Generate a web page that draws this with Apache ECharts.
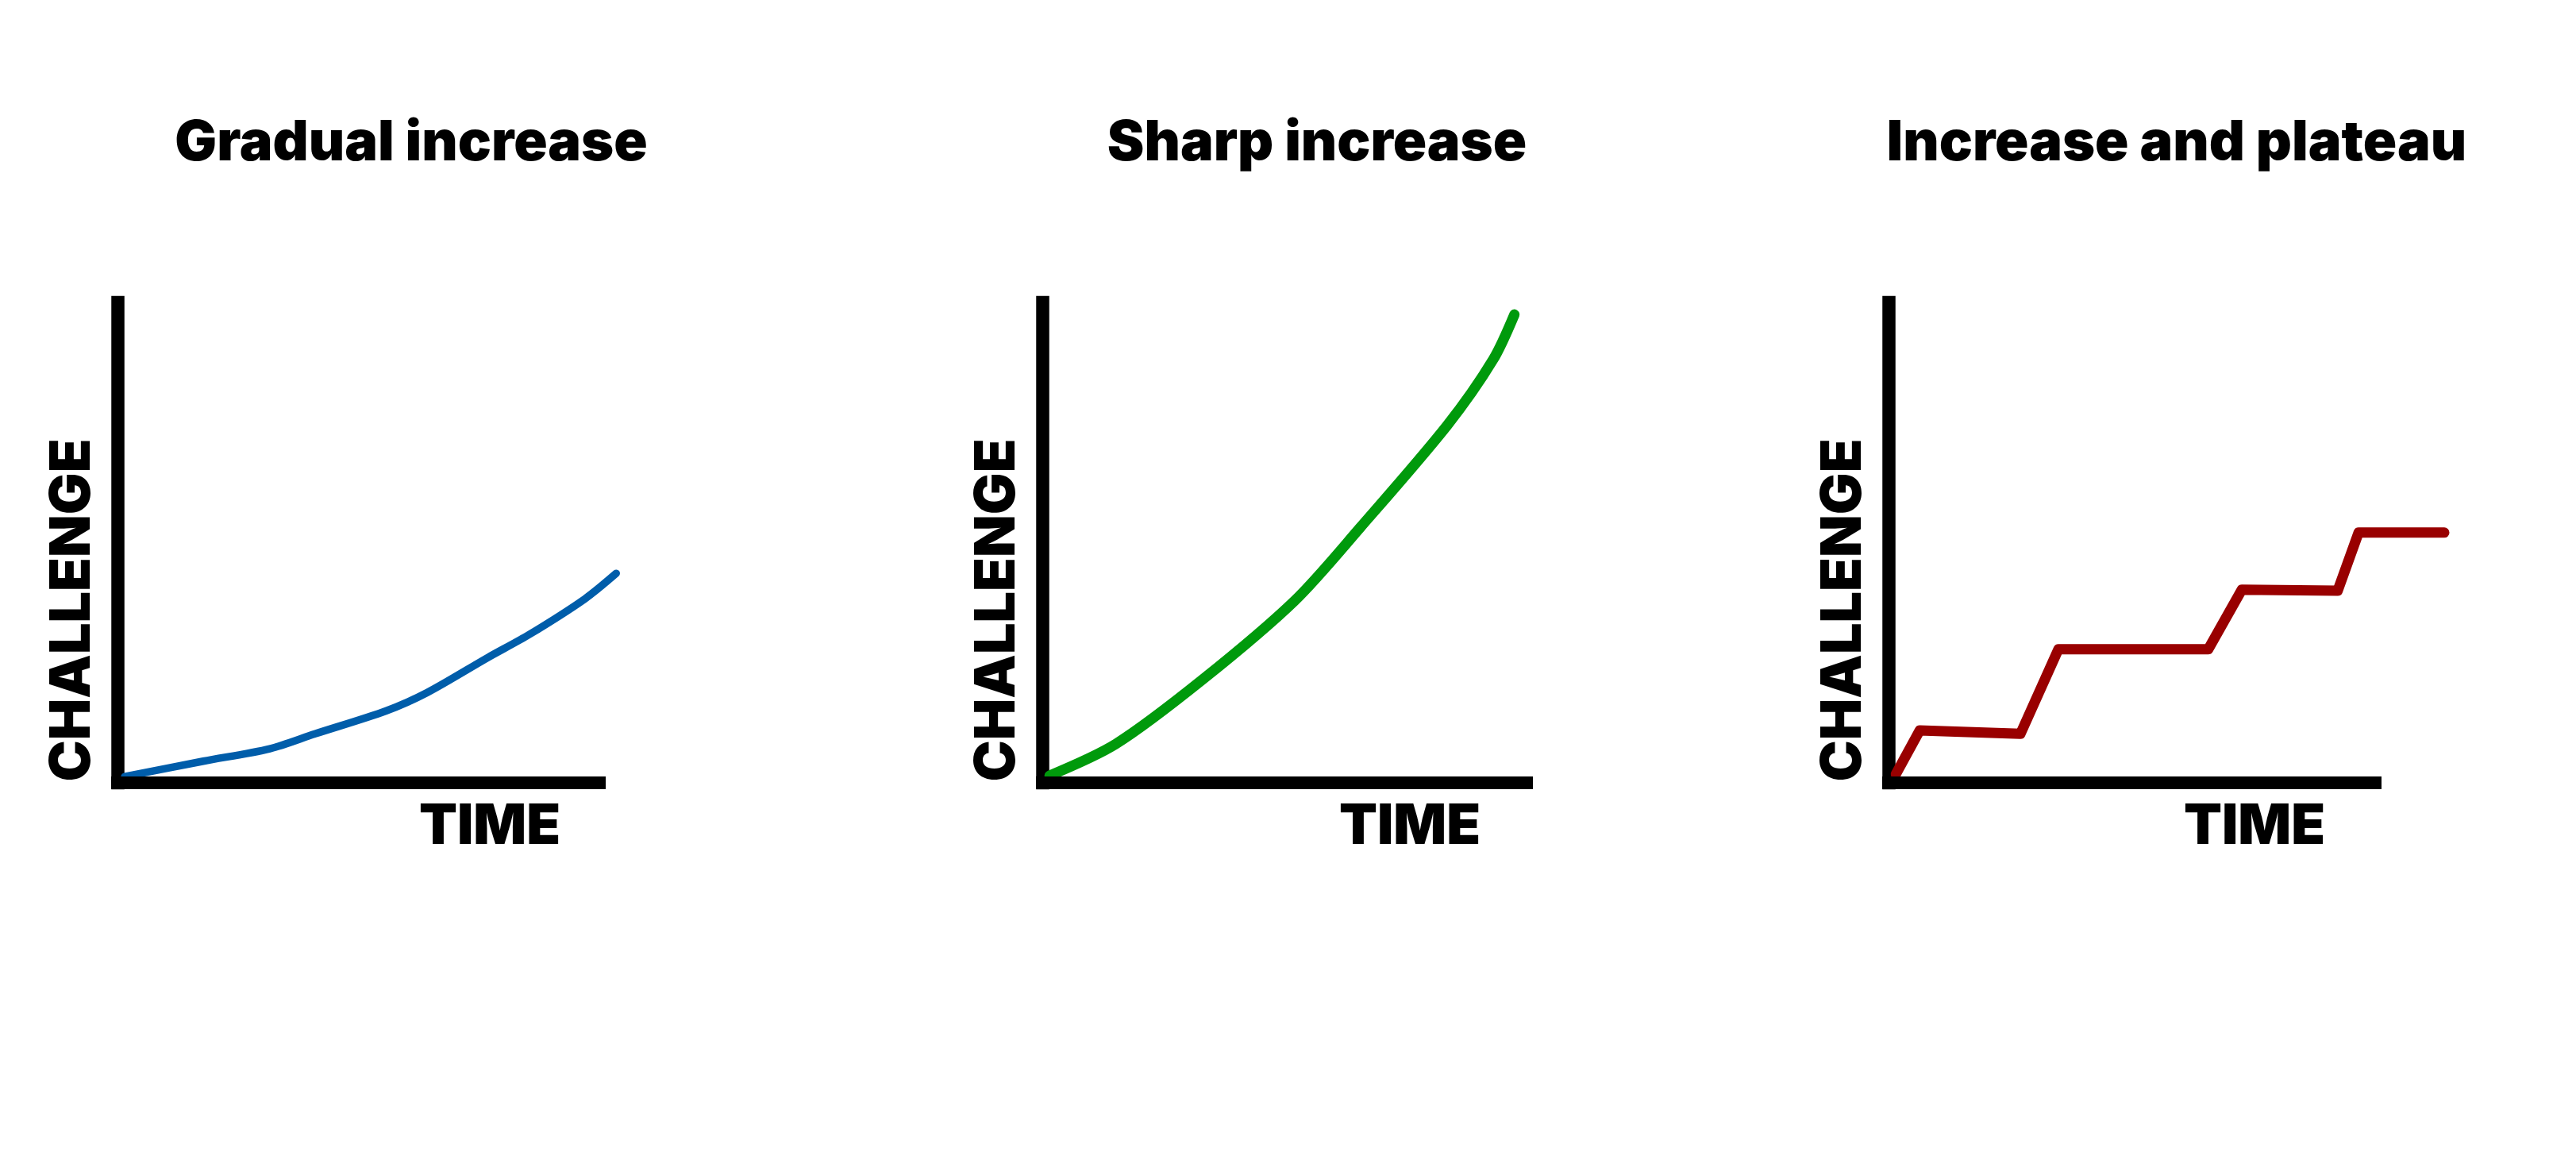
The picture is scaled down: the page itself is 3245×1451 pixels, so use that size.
<!DOCTYPE html>
<html>
<head>
<meta charset="utf-8">
<script src="https://cdn.jsdelivr.net/npm/echarts@6/dist/echarts.min.js"></script>
<style>html,body{margin:0;padding:0;background:#fff}#chart{width:3245px;height:1451px}</style>
</head>
<body>
<div id="chart"></div>
<script>
const panelTitles = ['Gradual increase', 'Sharp increase', 'Increase and plateau'];
const xName = 'TIME';
const yName = 'CHALLENGE';
const gradualX = [1.5, 17.8, 31.6, 41.0, 55.8, 64.3, 76.9, 85.5, 97.0, 103.5];
const gradualY = [1.3, 4.5, 7.1, 10.2, 15.0, 18.8, 26.1, 30.9, 38.3, 43.6];
const sharpX = [1.5, 15.2, 33.1, 52.1, 65.7, 83.6, 93.1, 97.5];
const sharpY = [1.5, 8.1, 21.5, 37.9, 53.2, 74.4, 88.1, 97.5];
const plateauX = [1.5, 6.4, 27.1, 34.9, 65.7, 72.6, 92.3, 96.6, 114.2];
const plateauY = [1.8, 10.9, 10.2, 27.8, 27.8, 40.2, 40.0, 52.1, 52.1];
const axisEnd = 100;          // where the drawn time axis stops
const xMaxes = [104, 100, 115]; // data extent per panel (lines run past the axis end)

const FONT = 'Inter';
const panelLeft = [148, 1313, 2379];
const unitWidth = [607, 610, 613]; // pixel length of the drawn axis (0..100)
const timeOffset = [469, 463, 461];
const titleCenters = [518, 1659, 2742];
const colors = ['#005DAA', '#009A0C', '#990000'];
const widths = [9.5, 13, 13];
const seriesData = [
  gradualX.map((x, i) => [x, gradualY[i]]),
  sharpX.map((x, i) => [x, sharpY[i]]),
  plateauX.map((x, i) => [x, plateauY[i]])
];
const grids = panelLeft.map((l, i) => ({
  left: l, top: 381, height: 605, width: unitWidth[i] * xMaxes[i] / 100
}));

const nameStyle = {color: '#000', fontFamily: FONT, fontWeight: 900, fontSize: 70};

const option = {
  backgroundColor: '#fff',
  animation: false,
  title: panelTitles.map((t, i) => ({
    text: t,
    left: titleCenters[i] - 5,
    top: 141,
    textAlign: 'center',
    textStyle: {color: '#000', fontFamily: FONT, fontWeight: 900, fontSize: 70}
  })),
  grid: grids,
  xAxis: grids.map((g, i) => ({
    type: 'value', gridIndex: i, min: 0, max: xMaxes[i],
    axisLine: {show: false}, axisTick: {show: false}, axisLabel: {show: false}, splitLine: {show: false},
    name: xName, nameLocation: 'middle', nameGap: 21,
    nameTextStyle: Object.assign({}, nameStyle, {padding: [0, 0, 0, 2 * (timeOffset[i] - g.width / 2)]})
  })),
  yAxis: grids.map((g, i) => ({
    type: 'value', gridIndex: i, min: 0, max: 100,
    axisLine: {show: true, lineStyle: {color: '#000', width: 16.5, cap: 'square'}},
    axisTick: {show: false}, axisLabel: {show: false}, splitLine: {show: false},
    name: yName, nameLocation: 'middle', nameGap: 21, nameRotate: 90,
    nameTextStyle: Object.assign({}, nameStyle, {padding: [0, 170, 0, 0]})
  })),
  series: seriesData.map((d, i) => ({
    type: 'line', xAxisIndex: i, yAxisIndex: i, data: d,
    showSymbol: false, clip: false, smooth: i === 2 ? false : 0.3,
    lineStyle: {color: colors[i], width: widths[i], cap: 'round', join: 'round'},
    z: 1,
    markLine: {
      silent: true, symbol: 'none', label: {show: false}, animation: false,
      lineStyle: {color: '#000', width: 16, type: 'solid', cap: 'square'},
      emphasis: {disabled: true},
      data: [[{coord: [0, 0]}, {coord: [axisEnd, 0]}]]
    }
  }))
};
const chart = echarts.init(document.getElementById('chart'));
chart.setOption(option);
</script>
</body>
</html>
